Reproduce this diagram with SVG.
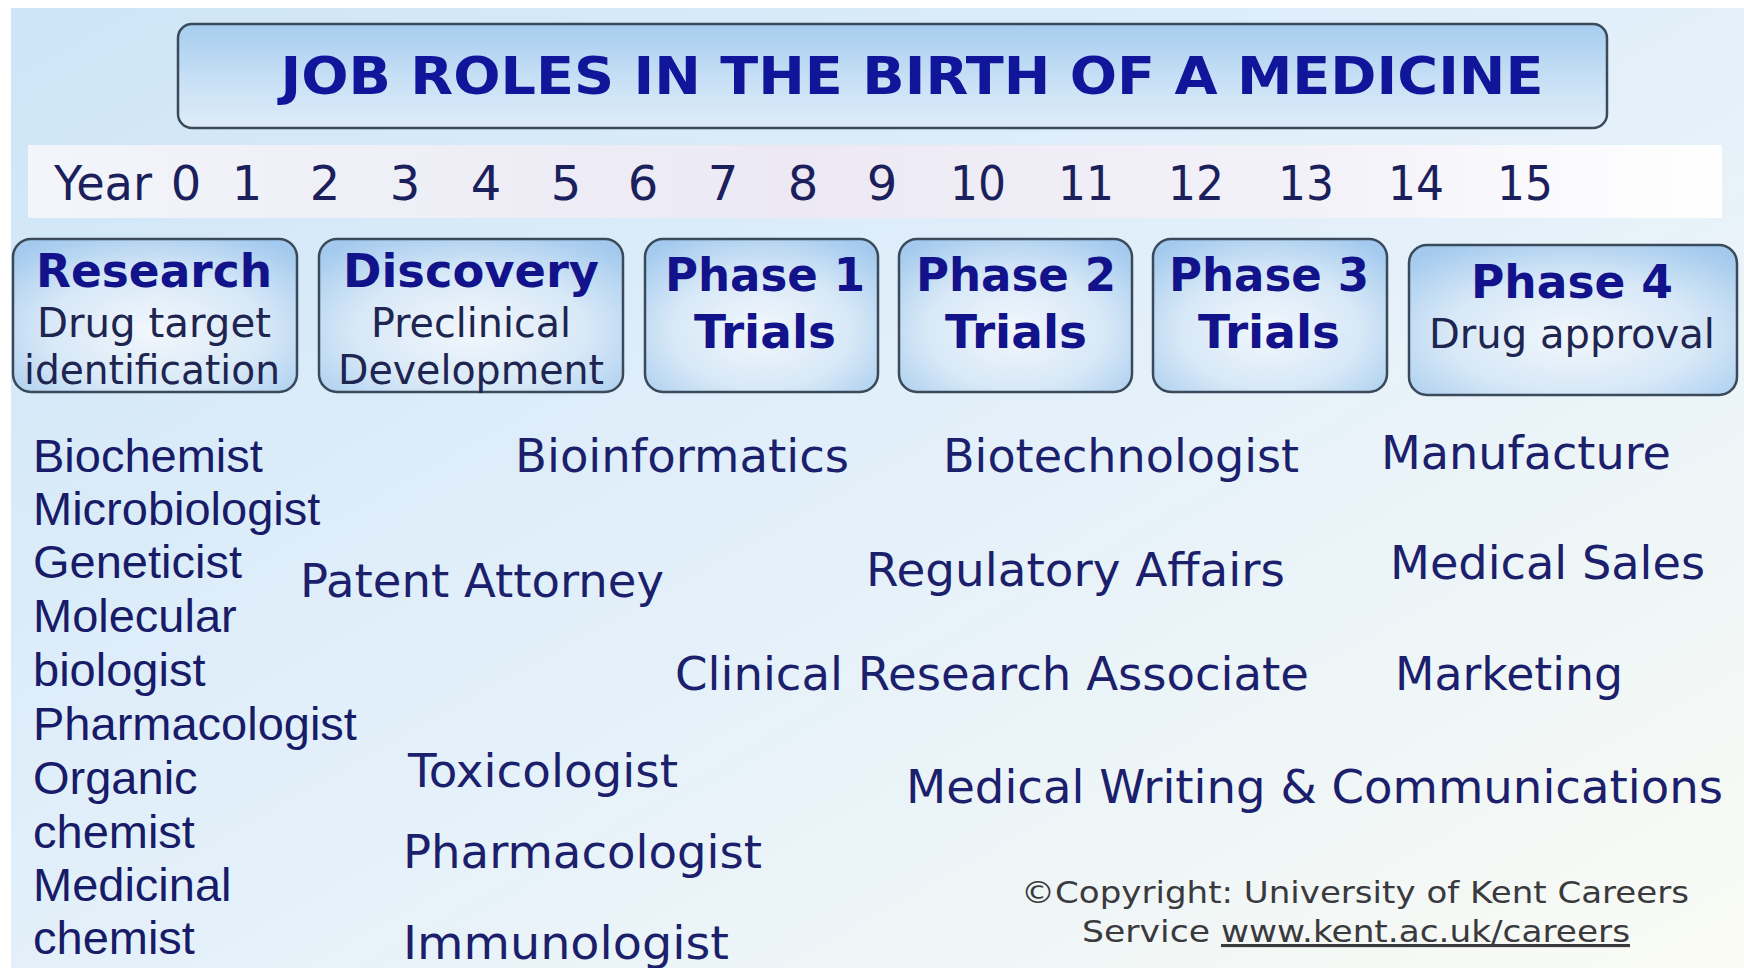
<svg xmlns="http://www.w3.org/2000/svg" width="1744" height="968" viewBox="0 0 1744 968">
<defs>
<linearGradient id="bg" x1="0" y1="0" x2="1" y2="1">
<stop offset="0" stop-color="#cde5f7"/>
<stop offset="0.5" stop-color="#e3f0fa"/>
<stop offset="1" stop-color="#fafbf4"/>
</linearGradient>
<linearGradient id="yearband" x1="0" y1="0" x2="1" y2="0">
<stop offset="0" stop-color="#f2f5fa"/>
<stop offset="0.45" stop-color="#ece9f4"/>
<stop offset="0.75" stop-color="#f3f1f8"/>
<stop offset="1" stop-color="#ffffff"/>
</linearGradient>
<radialGradient id="boxfill" cx="0.5" cy="0.6" r="0.7">
<stop offset="0" stop-color="#f2f7fc"/>
<stop offset="0.55" stop-color="#d7e8f7"/>
<stop offset="1" stop-color="#a3caee"/>
</radialGradient>
<linearGradient id="titlefill" x1="0" y1="0" x2="0" y2="1">
<stop offset="0" stop-color="#a6cdef"/>
<stop offset="0.6" stop-color="#cbe2f6"/>
<stop offset="1" stop-color="#deecf8"/>
</linearGradient>
<style>
.box{fill:url(#boxfill);stroke:#3b4a5a;stroke-width:2.5}
.bold{font-family:"DejaVu Sans",Verdana,sans-serif;font-weight:bold;fill:#12138a;text-anchor:middle}
.sub{font-family:"DejaVu Sans",Verdana,sans-serif;font-size:40px;fill:#1d2550;text-anchor:middle}
.year{font-family:"DejaVu Sans",Verdana,sans-serif;font-size:48px;fill:#1b1f5c;text-anchor:middle}
.left{font-family:"Liberation Sans",Arial,sans-serif;font-size:47px;fill:#171b68}
.job{font-family:"DejaVu Sans",Verdana,sans-serif;font-size:46px;fill:#1b1f6c}
.copy{font-family:"DejaVu Sans",Verdana,sans-serif;font-size:31px;fill:#3a3a3e}
</style>
</defs>
<rect x="0" y="0" width="1744" height="968" fill="#ffffff"/>
<rect x="11" y="8" width="1733" height="960" fill="url(#bg)"/>

<g id="title">
<rect x="178" y="24" width="1429" height="104" rx="14" fill="url(#titlefill)" stroke="#3b4a5a" stroke-width="2.5"/>
<text x="912" y="94" font-family="DejaVu Sans, Verdana, sans-serif" font-weight="bold" font-size="52" fill="#10159a" text-anchor="middle" textLength="1263" lengthAdjust="spacingAndGlyphs">JOB ROLES IN THE BIRTH OF A MEDICINE</text>
</g>

<g id="years">
<rect x="28" y="145" width="1694" height="73" fill="url(#yearband)"/>
<text class="year" x="54" y="200" style="text-anchor:start" textLength="98" lengthAdjust="spacingAndGlyphs">Year</text>
<text class="year" x="186" y="200">0</text>
<text class="year" x="247" y="200">1</text>
<text class="year" x="325" y="200">2</text>
<text class="year" x="405" y="200">3</text>
<text class="year" x="486" y="200">4</text>
<text class="year" x="566" y="200">5</text>
<text class="year" x="643" y="200">6</text>
<text class="year" x="723" y="200">7</text>
<text class="year" x="803" y="200">8</text>
<text class="year" x="882" y="200">9</text>
<text class="year" x="978" y="200" textLength="56" lengthAdjust="spacingAndGlyphs">10</text>
<text class="year" x="1086" y="200" textLength="56" lengthAdjust="spacingAndGlyphs">11</text>
<text class="year" x="1196" y="200" textLength="56" lengthAdjust="spacingAndGlyphs">12</text>
<text class="year" x="1306" y="200" textLength="56" lengthAdjust="spacingAndGlyphs">13</text>
<text class="year" x="1416" y="200" textLength="56" lengthAdjust="spacingAndGlyphs">14</text>
<text class="year" x="1525" y="200" textLength="56" lengthAdjust="spacingAndGlyphs">15</text>
</g>

<g id="research">
<rect class="box" x="13" y="239" width="284" height="153" rx="18"/>
<text class="bold" x="154" y="287" font-size="46" textLength="236" lengthAdjust="spacingAndGlyphs">Research</text>
<text class="sub" x="154" y="337" textLength="234" lengthAdjust="spacingAndGlyphs">Drug target</text>
<text class="sub" x="152" y="384" textLength="256" lengthAdjust="spacingAndGlyphs">identification</text>
</g>

<g id="discovery">
<rect class="box" x="319" y="239" width="304" height="153" rx="18"/>
<text class="bold" x="471" y="287" font-size="46" textLength="256" lengthAdjust="spacingAndGlyphs">Discovery</text>
<text class="sub" x="471" y="337" textLength="200" lengthAdjust="spacingAndGlyphs">Preclinical</text>
<text class="sub" x="471" y="384" textLength="266" lengthAdjust="spacingAndGlyphs">Development</text>
</g>

<g id="phase1">
<rect class="box" x="645" y="239" width="233" height="153" rx="18"/>
<text class="bold" x="765" y="291" font-size="46" textLength="200" lengthAdjust="spacingAndGlyphs">Phase 1</text>
<text class="bold" x="765" y="348" font-size="46" textLength="142" lengthAdjust="spacingAndGlyphs">Trials</text>
</g>

<g id="phase2">
<rect class="box" x="899" y="239" width="233" height="153" rx="18"/>
<text class="bold" x="1016" y="291" font-size="46" textLength="200" lengthAdjust="spacingAndGlyphs">Phase 2</text>
<text class="bold" x="1016" y="348" font-size="46" textLength="142" lengthAdjust="spacingAndGlyphs">Trials</text>
</g>

<g id="phase3">
<rect class="box" x="1153" y="239" width="234" height="153" rx="18"/>
<text class="bold" x="1269" y="291" font-size="46" textLength="200" lengthAdjust="spacingAndGlyphs">Phase 3</text>
<text class="bold" x="1269" y="348" font-size="46" textLength="142" lengthAdjust="spacingAndGlyphs">Trials</text>
</g>

<g id="phase4">
<rect class="box" x="1409" y="245" width="328" height="150" rx="18"/>
<text class="bold" x="1572" y="298" font-size="46" textLength="202" lengthAdjust="spacingAndGlyphs">Phase 4</text>
<text class="sub" x="1572" y="348" textLength="286" lengthAdjust="spacingAndGlyphs">Drug approval</text>
</g>

<g id="research-roles">
<text class="left" x="33" y="472">Biochemist</text>
<text class="left" x="33" y="525">Microbiologist</text>
<text class="left" x="33" y="578">Geneticist</text>
<text class="left" x="33" y="632">Molecular</text>
<text class="left" x="33" y="686">biologist</text>
<text class="left" x="33" y="740">Pharmacologist</text>
<text class="left" x="33" y="794">Organic</text>
<text class="left" x="33" y="848">chemist</text>
<text class="left" x="33" y="901">Medicinal</text>
<text class="left" x="33" y="954">chemist</text>
</g>

<g id="other-roles">
<text class="job" x="515" y="472" textLength="334" lengthAdjust="spacingAndGlyphs">Bioinformatics</text>
<text class="job" x="943" y="472" textLength="356" lengthAdjust="spacingAndGlyphs">Biotechnologist</text>
<text class="job" x="1381" y="469" textLength="290" lengthAdjust="spacingAndGlyphs">Manufacture</text>
<text class="job" x="300" y="597" textLength="364" lengthAdjust="spacingAndGlyphs">Patent Attorney</text>
<text class="job" x="866" y="586" textLength="419" lengthAdjust="spacingAndGlyphs">Regulatory Affairs</text>
<text class="job" x="1390" y="579" textLength="315" lengthAdjust="spacingAndGlyphs">Medical Sales</text>
<text class="job" x="675" y="690" textLength="634" lengthAdjust="spacingAndGlyphs">Clinical Research Associate</text>
<text class="job" x="1395" y="690" textLength="228" lengthAdjust="spacingAndGlyphs">Marketing</text>
<text class="job" x="408" y="787" textLength="270" lengthAdjust="spacingAndGlyphs">Toxicologist</text>
<text class="job" x="906" y="803" textLength="817" lengthAdjust="spacingAndGlyphs">Medical Writing &amp; Communications</text>
<text class="job" x="403" y="868" textLength="359" lengthAdjust="spacingAndGlyphs">Pharmacologist</text>
<text class="job" x="403" y="959" textLength="326" lengthAdjust="spacingAndGlyphs">Immunologist</text>
</g>

<g id="copyright">
<text class="copy" x="1021" y="903" textLength="668" lengthAdjust="spacingAndGlyphs">©Copyright: University of Kent Careers</text>
<text class="copy" x="1082" y="942" textLength="128" lengthAdjust="spacingAndGlyphs">Service</text>
<text class="copy" x="1221" y="942" textLength="409" lengthAdjust="spacingAndGlyphs" text-decoration="underline">www.kent.ac.uk/careers</text>
</g>
</svg>
